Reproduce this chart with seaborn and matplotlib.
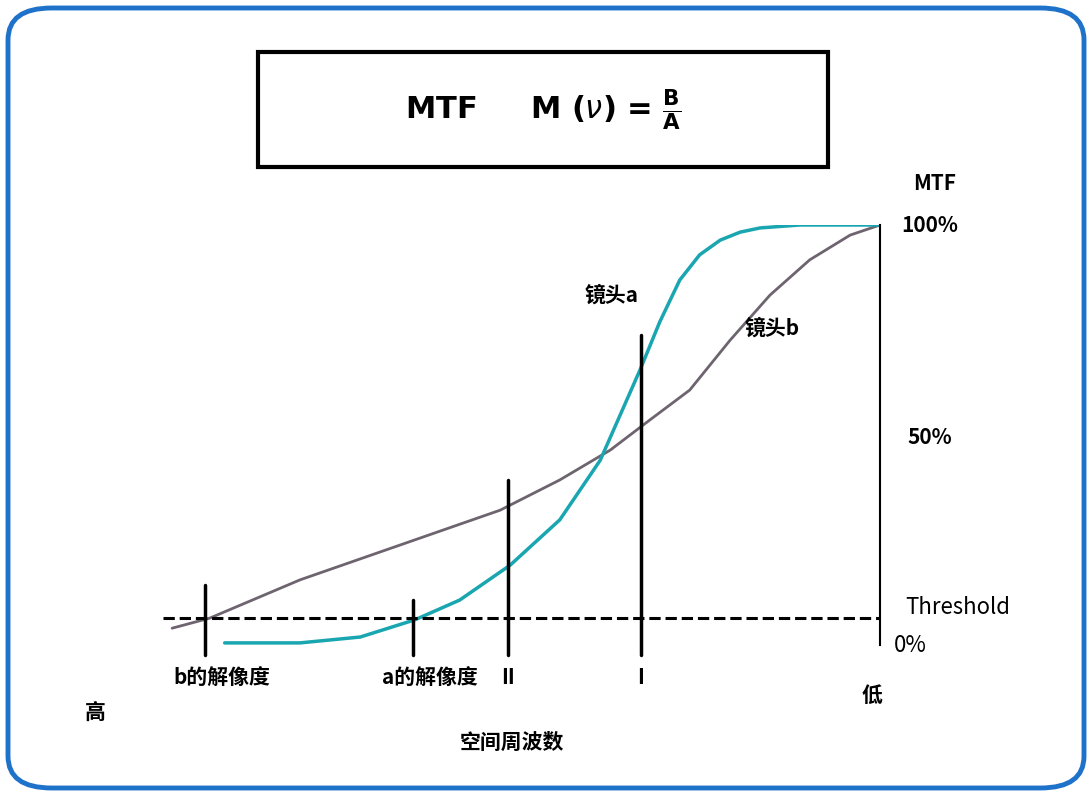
import matplotlib
matplotlib.use("Agg")
import matplotlib.pyplot as plt
import seaborn as sns
from matplotlib.patches import FancyBboxPatch, Rectangle

sns.set_theme(style="white")
plt.rcParams['font.family'] = ['Noto Sans CJK SC', 'DejaVu Sans']
plt.rcParams['text.color'] = 'black'

# spatial frequency (0 = low, at right; 100 = high, at left), MTF %
freq_a = [92.3, 81.7, 73.2, 65.5, 59.2, 52.1, 45.1, 39.4, 33.8, 31.0, 28.2, 25.4, 22.5, 19.7, 16.9, 11.3, 0.0]
mtf_a  = [0.5, 0.5, 1.9, 6.0, 10.7, 19.0, 29.8, 44.0, 65.5, 77.0, 86.9, 92.9, 96.4, 98.3, 99.3, 100, 100]
freq_b = [99.7, 94.4, 81.7, 67.6, 53.5, 45.1, 38.0, 32.4, 26.8, 21.1, 15.5, 9.9, 4.2, 0.0]
mtf_b  = [4.0, 6.4, 15.5, 23.8, 32.1, 39.3, 46.4, 53.6, 60.7, 72.6, 83.3, 91.7, 97.6, 100]
marker_freq = [95.1, 65.8, 52.4, 33.7]
marker_top  = [14.3, 10.7, 39.3, 73.8]
marker_labels = ["b的解像度", "a的解像度", "II", "I"]
threshold = 6.4

W, H = 1092, 796
fig = plt.figure(figsize=(W/100, H/100), dpi=100)
def fx(px): return px / W
def fy(py): return 1 - py / H

fig.patches.append(FancyBboxPatch((fx(8), fy(788)), fx(1076), 1 - 16/H,
    boxstyle="round,pad=0,rounding_size=0.04", transform=fig.transFigure,
    fill=False, ec="#1f72c9", lw=3.5))
fig.patches.append(Rectangle((fx(258), fy(167)), fx(570), 115/H,
    transform=fig.transFigure, fill=False, ec="black", lw=3))
fig.text(fx(543), fy(110), r"MTF     M ($\nu$) = $\mathbf{\frac{B}{A}}$",
         ha="center", va="center", fontsize=22, fontweight="bold", family="DejaVu Sans")

ax = fig.add_axes([fx(170), fy(645), fx(710), 420/H])
ax.set_xlim(100, 0)
ax.set_ylim(0, 100)
sns.lineplot(x=freq_b, y=mtf_b, ax=ax, color="#6e6470", lw=2, sort=False)
sns.lineplot(x=freq_a, y=mtf_a, ax=ax, color="#1aa6b0", lw=2.5, sort=False)
ax.axhline(threshold, color="black", ls="--", lw=2.2, xmin=-0.01, xmax=1.0, clip_on=False)
for f, t in zip(marker_freq, marker_top):
    ax.plot([f, f], [-2.4, t], color="black", lw=2.5, clip_on=False)
for s in ["top", "left", "bottom"]:
    ax.spines[s].set_visible(False)
ax.spines["right"].set_color("black")
ax.spines["right"].set_linewidth(1.5)
ax.set_xticks([]); ax.set_yticks([])
ax.set_facecolor("none")
ax.set_xlabel(""); ax.set_ylabel("")

kw = dict(fontsize=15, fontweight="bold", va="center", color="black")
for f, lab in zip(marker_freq, marker_labels):
    px = 880 - f / 100 * 710
    fig.text(fx(px + (17 if len(lab) > 2 else 0)), fy(678), lab, ha="center", **kw)
fig.text(fx(95), fy(712), "高", ha="center", **kw)
fig.text(fx(872), fy(695), "低", ha="center", **kw)
fig.text(fx(512), fy(742), "空间周波数", ha="center", **kw)
fig.text(fx(612), fy(295), "镜头a", ha="center", **kw)
fig.text(fx(772), fy(328), "镜头b", ha="center", **kw)
fig.text(fx(935), fy(183), "MTF", ha="center", **kw)
fig.text(fx(930), fy(225), "100%", ha="center", **kw)
fig.text(fx(930), fy(438), "50%", ha="center", **kw)
fig.text(fx(958), fy(608), "Threshold", ha="center", fontsize=16, va="center", color="black")
fig.text(fx(910), fy(645), "0%", ha="center", fontsize=16, va="center", color="black")

fig.savefig("out.png", dpi=100, facecolor="white")
